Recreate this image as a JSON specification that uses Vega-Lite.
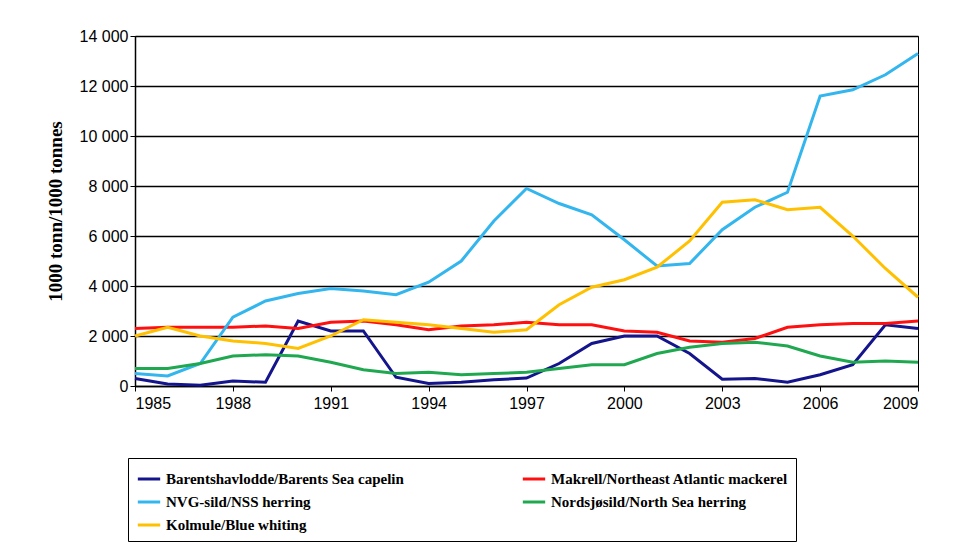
{
  "$schema": "https://vega.github.io/schema/vega-lite/v6.json",
  "width": 783,
  "height": 350,
  "autosize": "none",
  "padding": {"left": 135, "top": 36, "right": 48, "bottom": 168},
  "background": "white",
  "datasets": {
    "wide": [
      {"year":1985,"cap":300,"mac":2300,"nss":500,"nsh":700,"blw":2000},
      {"year":1986,"cap":80,"mac":2350,"nss":400,"nsh":700,"blw":2350},
      {"year":1987,"cap":30,"mac":2350,"nss":900,"nsh":900,"blw":2000},
      {"year":1988,"cap":200,"mac":2350,"nss":2750,"nsh":1200,"blw":1800},
      {"year":1989,"cap":150,"mac":2400,"nss":3400,"nsh":1250,"blw":1700},
      {"year":1990,"cap":2600,"mac":2300,"nss":3700,"nsh":1200,"blw":1500},
      {"year":1991,"cap":2200,"mac":2550,"nss":3900,"nsh":950,"blw":2000},
      {"year":1992,"cap":2200,"mac":2600,"nss":3800,"nsh":650,"blw":2650},
      {"year":1993,"cap":350,"mac":2450,"nss":3650,"nsh":500,"blw":2550},
      {"year":1994,"cap":100,"mac":2250,"nss":4150,"nsh":550,"blw":2450},
      {"year":1995,"cap":150,"mac":2400,"nss":5000,"nsh":450,"blw":2300},
      {"year":1996,"cap":250,"mac":2450,"nss":6600,"nsh":500,"blw":2150},
      {"year":1997,"cap":320,"mac":2550,"nss":7900,"nsh":550,"blw":2250},
      {"year":1998,"cap":900,"mac":2450,"nss":7300,"nsh":700,"blw":3250},
      {"year":1999,"cap":1700,"mac":2450,"nss":6850,"nsh":850,"blw":3950},
      {"year":2000,"cap":2000,"mac":2200,"nss":5850,"nsh":850,"blw":4250},
      {"year":2001,"cap":2000,"mac":2150,"nss":4800,"nsh":1300,"blw":4750},
      {"year":2002,"cap":1300,"mac":1800,"nss":4900,"nsh":1550,"blw":5800},
      {"year":2003,"cap":270,"mac":1750,"nss":6250,"nsh":1700,"blw":7350},
      {"year":2004,"cap":300,"mac":1900,"nss":7150,"nsh":1750,"blw":7450},
      {"year":2005,"cap":150,"mac":2350,"nss":7750,"nsh":1600,"blw":7050},
      {"year":2006,"cap":450,"mac":2450,"nss":11600,"nsh":1200,"blw":7150},
      {"year":2007,"cap":850,"mac":2500,"nss":11850,"nsh":950,"blw":6000},
      {"year":2008,"cap":2450,"mac":2500,"nss":12450,"nsh":1000,"blw":4700},
      {"year":2009,"cap":2300,"mac":2600,"nss":13300,"nsh":950,"blw":3550}
    ]
  },
  "data": {"name": "wide"},
  "transform": [
    {"fold": ["cap", "mac", "nss", "nsh", "blw"], "as": ["key", "catch"]},
    {"lookup": "key", "from": {"data": {"values": [
      {"key": "cap", "species": "Barentshavlodde/Barents Sea capelin", "ord": 0},
      {"key": "mac", "species": "Makrell/Northeast Atlantic mackerel", "ord": 1},
      {"key": "nss", "species": "NVG-sild/NSS herring", "ord": 2},
      {"key": "nsh", "species": "Nordsjøsild/North Sea herring", "ord": 3},
      {"key": "blw", "species": "Kolmule/Blue whiting", "ord": 4}
    ]}, "key": "key", "fields": ["species", "ord"]}}
  ],
  "mark": {"type": "line", "strokeWidth": 3},
  "encoding": {
    "x": {
      "field": "year", "type": "quantitative",
      "scale": {"domain": [1985, 2009], "nice": false, "zero": false},
      "axis": {"values": [1985,1988,1991,1994,1997,2000,2003,2006,2009], "format": "d", "title": null, "grid": false, "tickSize": 5, "labelPadding": 4}
    },
    "y": {
      "field": "catch", "type": "quantitative",
      "scale": {"domain": [0, 14000]},
      "axis": {
        "values": [0,2000,4000,6000,8000,10000,12000,14000],
        "labelExpr": "replace(format(datum.value, ','), ',', ' ')",
        "title": "1000 tonn/1000 tonnes",
        "titleFont": "Liberation Serif", "titleFontSize": 19, "titleFontWeight": "bold", "titlePadding": 14,
        "grid": true, "gridColor": "black", "gridWidth": 1.5, "tickSize": 5
      }
    },
    "color": {
      "field": "species", "type": "nominal",
      "scale": {
        "domain": ["Barentshavlodde/Barents Sea capelin", "NVG-sild/NSS herring", "Kolmule/Blue whiting", "Makrell/Northeast Atlantic mackerel", "Nordsjøsild/North Sea herring"],
        "range": ["#14148c", "#33b5ee", "#ffc000", "#ff1010", "#20a850"]
      },
      "legend": {
        "orient": "none", "legendX": -7, "legendY": 422, "columns": 2, "title": null,
        "symbolType": "stroke", "symbolStrokeWidth": 3, "symbolSize": 500,
        "labelFont": "Liberation Serif", "labelFontSize": 15, "labelFontWeight": "bold", "labelLimit": 400,
        "columnPadding": 112, "rowPadding": 2,
        "strokeColor": "black", "padding": 8, "labelColor": "black"
      }
    },
    "order": {"field": "ord"}
  },
  "config": {
    "view": {"stroke": "black", "strokeWidth": 1},
    "axis": {"labelFont": "Liberation Sans", "labelFontSize": 16, "labelColor": "black", "domainColor": "black", "tickColor": "black", "domainWidth": 1.5}
  }
}
